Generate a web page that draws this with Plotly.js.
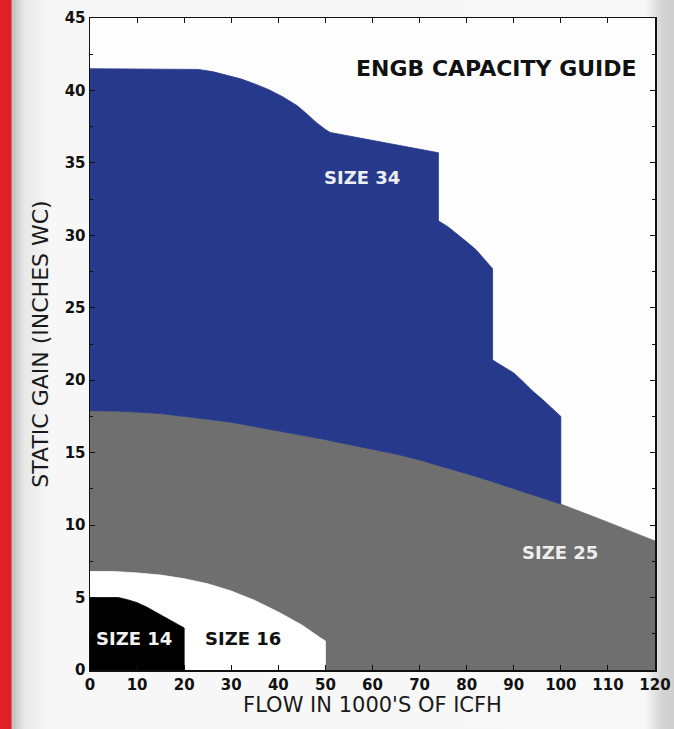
<!DOCTYPE html>
<html>
<head>
<meta charset="utf-8">
<script src="https://cdn.plot.ly/plotly-3.0.1.min.js"></script>
<style>
html,body{margin:0;padding:0;width:674px;height:729px;overflow:hidden;}
body{background:linear-gradient(to right,#e21f26 0px,#e21f26 11px,#bdbdbd 12px,#e8e8e8 24px,#f7f7f7 50px,#f8f8f8 645px,#d4d4d4 662px,#cfcfcf 674px);}
#chart{width:674px;height:729px;}
</style>
</head>
<body>
<div id="chart"></div>
<script>
// Size 25 (gray) upper boundary
const size25X = [0, 5, 10, 15, 20, 25, 30, 35, 40, 45, 50, 55, 60, 65, 70, 75, 80, 85, 90, 95, 100, 105, 110, 115, 120];
const size25Y = [17.9, 17.88, 17.8, 17.7, 17.5, 17.3, 17.1, 16.8, 16.5, 16.2, 15.9, 15.6, 15.25, 14.9, 14.5, 14.05, 13.55, 13.05, 12.5, 12.0, 11.45, 10.85, 10.2, 9.55, 8.9];

// Size 34 (blue) upper boundary
const size34X = [0, 10, 20, 23, 26, 29, 32, 35, 38, 41, 44, 46, 48, 50, 51, 74, 74, 76, 78, 80, 82, 84, 85.5, 85.5, 88, 90, 92, 94, 96, 98, 100];
const size34Y = [41.5, 41.5, 41.5, 41.45, 41.3, 41.05, 40.8, 40.45, 40.05, 39.55, 38.95, 38.4, 37.8, 37.3, 37.1, 35.7, 31.0, 30.6, 30.1, 29.55, 29.0, 28.3, 27.7, 21.4, 20.9, 20.5, 19.9, 19.25, 18.7, 18.1, 17.5];

// Size 16 (white) upper boundary
const size16X = [0, 5, 10, 15, 20, 25, 30, 35, 40, 45, 49, 50];
const size16Y = [6.8, 6.8, 6.7, 6.55, 6.3, 5.95, 5.45, 4.8, 4.0, 3.1, 2.2, 2.0];

// Size 14 (black) upper boundary
const size14X = [0, 6, 8, 10, 12, 14, 16, 18, 20];
const size14Y = [5.0, 5.0, 4.85, 4.65, 4.35, 4.0, 3.6, 3.25, 2.9];

const xTicks = [0, 10, 20, 30, 40, 50, 60, 70, 80, 90, 100, 110, 120];
const yTicks = [0, 5, 10, 15, 20, 25, 30, 35, 40, 45];

const sizeLabels = ["SIZE 34", "SIZE 25", "SIZE 16", "SIZE 14"];

// build polygons
function closeToAxis(xs, ys) {
  const px = xs.slice(), py = ys.slice();
  px.push(xs[xs.length - 1], xs[0]);
  py.push(0, 0);
  return {x: px, y: py};
}
const gray = closeToAxis(size25X, size25Y);
const white = closeToAxis(size16X, size16Y);
const black = closeToAxis(size14X, size14Y);

// blue polygon: top boundary, then down to gray curve, then back along gray curve
const blueX = size34X.slice(), blueY = size34Y.slice();
const lastX = size34X[size34X.length - 1];
for (let i = size25X.length - 1; i >= 0; i--) {
  if (size25X[i] <= lastX) { blueX.push(size25X[i]); blueY.push(size25Y[i]); }
}

function poly(p, color) {
  return {x: p.x, y: p.y, type: 'scatter', mode: 'lines', fill: 'toself',
    fillcolor: color, line: {color: color, width: 0.8}, hoverinfo: 'skip', showlegend: false};
}

const data = [
  poly(gray, '#6f6f6f'),
  poly({x: blueX, y: blueY}, '#26398a'),
  poly(white, '#ffffff'),
  poly(black, '#000000')
];

const font = "'DejaVu Sans', Verdana, sans-serif";
const layout = {
  width: 674, height: 729,
  margin: {l: 90, r: 19, t: 18, b: 59, pad: 0},
  paper_bgcolor: 'rgba(0,0,0,0)',
  plot_bgcolor: '#fdfdfd',
  showlegend: false,
  xaxis: {
    range: [0, 120], tickvals: xTicks, ticktext: xTicks.map(String),
    showgrid: false, zeroline: false, showline: true, linecolor: '#111', linewidth: 1.5,
    mirror: 'ticks', ticks: 'inside', ticklen: 5, tickcolor: '#111',
    tickfont: {family: font, size: 15, color: '#111', weight: 'bold'},
    title: {text: "FLOW IN 1000'S OF ICFH", font: {family: font, size: 21, color: '#1a1a1a'}, standoff: 2}
  },
  yaxis: {
    range: [0, 45], tickvals: yTicks, ticktext: yTicks.map(String),
    showgrid: false, zeroline: false, showline: true, linecolor: '#111', linewidth: 1.5,
    mirror: 'ticks', ticks: 'inside', ticklen: 5, tickcolor: '#111',
    minor: {dtick: 2.5, ticks: 'inside', ticklen: 3, tickcolor: '#111'},
    tickfont: {family: font, size: 15, color: '#111', weight: 'bold'},
    title: {text: "STATIC GAIN (INCHES WC)", font: {family: font, size: 22, color: '#1a1a1a'}, standoff: 10}
  },
  annotations: [
    {x: 0.972, y: 0.923, xref: 'paper', yref: 'paper', xanchor: 'right', yanchor: 'middle',
     text: '<b>ENGB CAPACITY GUIDE</b>', showarrow: false, font: {family: font, size: 22, color: '#111'}},
    {x: 57.8, y: 34.0, text: '<b>' + sizeLabels[0] + '</b>', showarrow: false, font: {family: font, size: 18, color: '#eceef5'}},
    {x: 99.9, y: 8.1, text: '<b>' + sizeLabels[1] + '</b>', showarrow: false, font: {family: font, size: 18, color: '#eeeeee'}},
    {x: 32.6, y: 2.2, text: '<b>' + sizeLabels[2] + '</b>', showarrow: false, font: {family: font, size: 18, color: '#111'}},
    {x: 9.3, y: 2.2, text: '<b>' + sizeLabels[3] + '</b>', showarrow: false, font: {family: font, size: 18, color: '#f2f2f2'}}
  ]
};

Plotly.newPlot('chart', data, layout, {displayModeBar: false, staticPlot: true});
</script>
</body>
</html>
